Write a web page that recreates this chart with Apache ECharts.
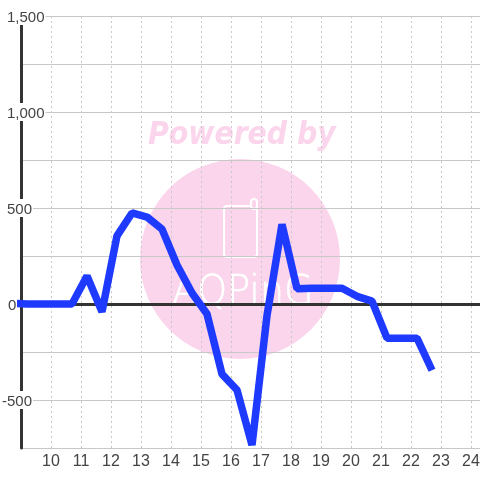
<!DOCTYPE html>
<html>
<head>
<meta charset="utf-8">
<script src="https://cdn.jsdelivr.net/npm/echarts@6/dist/echarts.min.js"></script>
<style>
html,body{margin:0;padding:0;background:#fff}
#main{width:480px;height:480px}
</style>
</head>
<body>
<div id="main"></div>
<script>
var hours = [8.7,9.2,9.7,10.2,10.7,11.2,11.7,12.2,12.7,13.2,13.7,14.2,14.7,15.2,15.7,16.2,16.7,17.2,17.7,18.2,18.7,19.2,19.7,20.2,20.7,21.2,21.7,22.2,22.7];
var values = [3,0,0,0,0,146,-40,355,474,453,390,203,57,-52,-365,-448,-735,-60,415,80,82,82,82,40,15,-178,-178,-178,-345];

var pink = '#fbd5ec';
var chart = echarts.init(document.getElementById('main'));

var seriesData = hours.map(function (h, i) {
    return [h, values[i]];
});

chart.setOption({
    animation: false,
    textStyle: { fontFamily: 'Liberation Sans' },
    grid: { left: 21, right: 0, top: 16, bottom: 32, outerBoundsMode: 'none' },
    graphic: [
        { type: 'circle', z: -10, shape: { cx: 240, cy: 259, r: 100 }, style: { fill: pink } },
        { type: 'text', z: -10, x: 148, y: 120, style: { text: 'Powered by', fill: pink, font: 'italic bold 31.5px "DejaVu Sans Condensed"' } },
        // phone icon
        { type: 'rect', z: -9, shape: { x: 224, y: 206, width: 33, height: 51, r: 3 }, style: { fill: 'none', stroke: '#fff', lineWidth: 2 } },
        { type: 'rect', z: -9, shape: { x: 251, y: 199, width: 6, height: 10, r: 3 }, style: { fill: pink, stroke: '#fff', lineWidth: 2 } },
        { type: 'text', z: -9, x: 172, y: 274, scaleX: 0.95, style: { text: 'AQPinG', fill: '#fff', stroke: '#fff', lineWidth: 0.6, font: '200 40px "DejaVu Sans"' } }
    ],
    xAxis: [
        {
            type: 'value',
            min: 9,
            max: 24.3,
            interval: 1,
            axisLine: { onZero: false, show: false },
            axisTick: { show: false },
            splitLine: { show: true, lineStyle: { color: '#c8c8c8', type: [2, 3], width: 1 } },
            axisLabel: {
                color: '#444',
                fontSize: 16,
                margin: 6,
                formatter: function (v) {
                    return (v === 9 || v !== Math.round(v)) ? '' : String(v);
                }
            }
        },
        {
            type: 'value',
            min: 9,
            max: 24.3,
            interval: 1,
            axisLine: { show: true, onZero: true, lineStyle: { color: '#333', width: 3 } },
            axisTick: { show: false },
            splitLine: { show: false },
            axisLabel: { show: false }
        }
    ],
    yAxis: {
        type: 'value',
        min: -750,
        max: 1500,
        interval: 250,
        axisLine: { show: true, onZero: false, lineStyle: { color: '#333', width: 3 } },
        axisTick: { show: false },
        splitLine: { show: true, lineStyle: { color: '#c8c8c8', width: 1 } },
        axisLabel: {
            color: '#444',
            fontSize: 15,
            align: 'left',
            margin: 19,
            formatter: function (v) {
                if (v % 500 !== 0) return '';
                var s = echarts.format.addCommas(v);
                if (v === 0) return '{z|' + s + '}';
                if (v < 0) return '{n|' + s + '}';
                return '{p|' + s + '}';
            },
            rich: {
                p: { fontSize: 15, color: '#444', backgroundColor: '#fff', padding: [3, 1, 0, 5] },
                n: { fontSize: 15, color: '#444', backgroundColor: '#fff', padding: [3, 1, 0, 0] },
                z: { fontSize: 15, color: '#444', padding: [3, 0, 0, 6] }
            }
        }
    },
    series: [{
        type: 'line',
        data: seriesData,
        showSymbol: false,
        clip: false,
        lineStyle: { color: '#1e3aff', width: 7.5, join: 'bevel', cap: 'butt' }
    }]
});
</script>
</body>
</html>
